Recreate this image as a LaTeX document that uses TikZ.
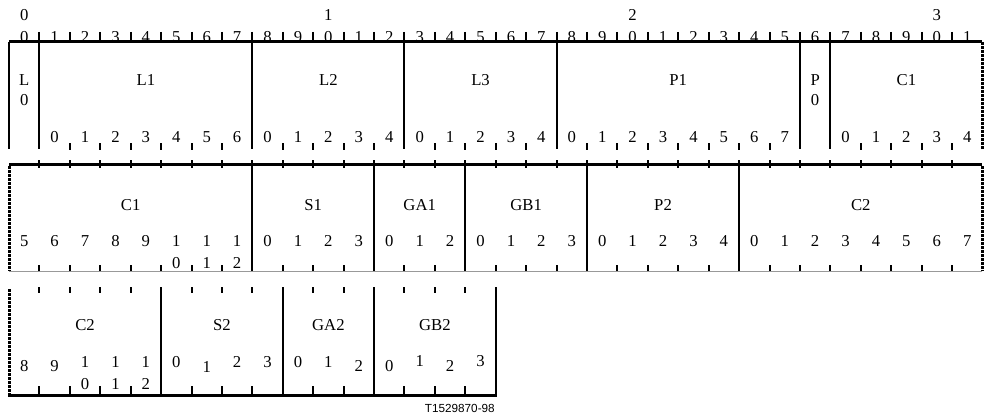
\documentclass[tikz,border=0pt]{standalone}
\usepackage{fontspec}
\setmainfont{Liberation Serif}
\newfontfamily\tagfont{Liberation Sans}
\begin{document}
\begin{tikzpicture}[x=0.75pt,y=-0.75pt,
  declare function={bx(\i)=9+30.42*\i;},
  txt/.style={inner sep=0pt,font=\fontsize{12.5}{14}\selectfont},
  heavy/.style={line width=2.25pt},
  vline/.style={line width=1.5pt},
  tickmark/.style={line width=1.5pt},
  dashedge/.style={line width=2.25pt,dash pattern=on 2.25pt off 0.75pt},
  thinline/.style={line width=0.75pt,black!40},
]
\useasboundingbox (0,0) rectangle (987,417);

% ===== Row 1 =====
% tens digits
\foreach \t/\i in {0/0,1/10,2/20,3/30}
  \node[txt] (tens\t) at ({bx(\i+0.5)},15) {\t};
% units digits (partly hidden by the line)
\foreach \i in {0,...,31}{
  \pgfmathtruncatemacro\u{mod(\i,10)}
  \node[txt,anchor=base] (unit\i) at ({bx(\i+0.5)},42.5) {\u};
}
% top ticks
\foreach \i in {1,...,31}
  \draw[tickmark] ({bx(\i)},32) coordinate (tka\i) -- ({bx(\i)},42) coordinate (tkb\i);
% top line
\coordinate (r1l) at ({bx(0)},42);
\coordinate (r1r) at ({bx(32)},42);
\draw[heavy] (r1l) -- (r1r);
% vertical field lines
\foreach \i in {0,1,8,13,18,26,27}
  \draw[vline] ({bx(\i)},42) coordinate (r1vt\i) -- ({bx(\i)},149) coordinate (r1vb\i);
\draw[dashedge] (r1r) -- ({bx(32)},149) coordinate (r1rb);
% single-bit fields
\node[txt] (L0a) at ({bx(0.5)},80) {L};
\node[txt] (L0b) at ({bx(0.5)},100) {0};
\node[txt] (P0a) at ({bx(26.5)},80) {P};
\node[txt] (P0b) at ({bx(26.5)},100) {0};
% multi-bit fields
\foreach \s/\n/\lab in {1/7/L1,8/5/L2,13/5/L3,18/8/P1,27/5/C1}{
  \node[txt] (r1f\s) at ({bx(\s+\n/2)},80) {\lab};
  \pgfmathtruncatemacro\m{\n-1}
  \foreach \j in {0,...,\m}
    \node[txt] (r1d\s-\j) at ({bx(\s+\j+0.5)},137) {\j};
  \foreach \j in {1,...,\m}
    \draw[tickmark] ({bx(\s+\j)},143) -- ({bx(\s+\j)},150);
}

% ===== Row 2 =====
\foreach \i in {1,...,31}
  \draw[tickmark] ({bx(\i)},160) -- ({bx(\i)},168);
\coordinate (r2l) at ({bx(0)},164);
\coordinate (r2r) at ({bx(32)},164);
\draw[heavy] (r2l) -- (r2r);
\coordinate (r2bl) at ({bx(0)},271);
\coordinate (r2br) at ({bx(32)},271);
\draw[thinline] (r2bl) -- (r2br);
\foreach \i in {8,12,15,19,24}
  \draw[vline] ({bx(\i)},164) -- ({bx(\i)},271);
\draw[dashedge] ({bx(0)},166) coordinate (r2lt) -- (r2bl);
\draw[dashedge] ({bx(32)},166) coordinate (r2rt) -- (r2br);
% bottom ticks (all internal boundaries)
\foreach \i in {1,2,3,4,5,6,7,9,10,11,13,14,16,17,18,20,21,22,23,25,26,27,28,29,30,31}
  \draw[tickmark] ({bx(\i)},265) -- ({bx(\i)},271);
% labels
\foreach \s/\n/\lab in {0/8/C1,8/4/S1,12/3/GA1,15/4/GB1,19/5/P2,24/8/C2}
  \node[txt] (r2f\s) at ({bx(\s+\n/2)},205) {\lab};
% C1 bits 5..12
\foreach \j/\d in {0/5,1/6,2/7,3/8,4/9}
  \node[txt] (r2c\j) at ({bx(\j+0.5)},241) {\d};
\foreach \j/\d in {5/0,6/1,7/2}{
  \node[txt] (r2ct\j) at ({bx(\j+0.5)},241) {1};
  \node[txt] (r2cu\j) at ({bx(\j+0.5)},263) {\d};
}
\foreach \s/\n in {8/4,12/3,15/4,19/5,24/8}{
  \pgfmathtruncatemacro\m{\n-1}
  \foreach \j in {0,...,\m}
    \node[txt] (r2d\s-\j) at ({bx(\s+\j+0.5)},241) {\j};
}

% ===== Row 3 =====
\foreach \i in {1,2,3,4,6,7,8,10,11,13,14,15}{
  \draw[tickmark] ({bx(\i)},287) -- ({bx(\i)},293);
  \draw[tickmark] ({bx(\i)},386) -- ({bx(\i)},395);
}
\foreach \i in {5,9,12,16}
  \draw[vline] ({bx(\i)},287) -- ({bx(\i)},395);
\coordinate (r3l) at ({bx(0)},395);
\coordinate (r3r) at ({bx(16)},395);
\draw[dashedge] ({bx(0)},289) coordinate (r3lt) -- (r3l);
\draw[heavy] ([xshift=-0.75pt]r3l) -- ([xshift=0.75pt]r3r);
\foreach \s/\n/\lab in {0/5/C2,5/4/S2,9/3/GA2,12/4/GB2}
  \node[txt] (r3f\s) at ({bx(\s+\n/2)},325) {\lab};
% digits with their slight vertical offsets
\foreach \j/\d/\y in {0/8/366,1/9/366,2/1/362,3/1/362,4/1/362,
                      5/0/362,6/1/367,7/2/362,8/3/362,
                      9/0/362,10/1/362,11/2/366,
                      12/0/366,13/1/361,14/2/366,15/3/361}
  \node[txt] (r3d\j) at ({bx(\j+0.5)},\y) {\d};
\foreach \j/\d in {2/0,3/1,4/2}
  \node[txt] (r3u\j) at ({bx(\j+0.5)},384) {\d};

\node[inner sep=0pt,anchor=east,font=\tagfont\fontsize{8.8}{10}\selectfont] (tag) at (495,408) {T1529870-98};
\end{tikzpicture}
\end{document}
